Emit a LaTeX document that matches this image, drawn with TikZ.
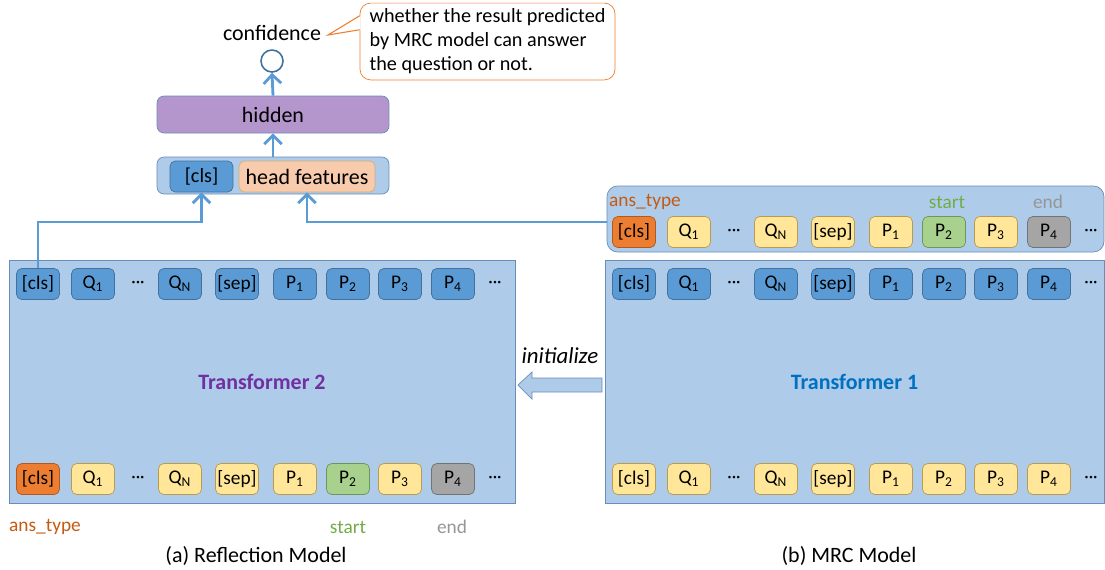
\documentclass[tikz,border=0pt]{standalone}
\usepackage{fontspec}
\setmainfont{Carlito}
\usetikzlibrary{calc,arrows.meta}
\definecolor{boxfill}{RGB}{174,203,234}
\definecolor{boxline}{RGB}{105,140,185}
\definecolor{tblue}{RGB}{91,155,213}
\definecolor{tblueline}{RGB}{65,113,156}
\definecolor{tyellow}{RGB}{255,230,153}
\definecolor{tyellowline}{RGB}{185,155,80}
\definecolor{torange}{RGB}{237,125,49}
\definecolor{torangeline}{RGB}{174,90,33}
\definecolor{tgreen}{RGB}{169,209,142}
\definecolor{tgreenline}{RGB}{110,150,90}
\definecolor{tgray}{RGB}{165,165,165}
\definecolor{tgrayline}{RGB}{115,115,115}
\definecolor{peach}{RGB}{248,203,173}
\definecolor{lavender}{RGB}{180,150,205}
\definecolor{anscol}{RGB}{197,90,17}
\definecolor{startcol}{RGB}{112,173,71}
\definecolor{endcol}{RGB}{150,150,150}
\definecolor{purpletxt}{RGB}{112,48,160}
\definecolor{bluetxt}{RGB}{0,112,192}
\def\fs{\fontsize{12.5}{15}\selectfont}
\def\ts{\fontsize{11}{12}\selectfont}
\def\tdots{\textperiodcentered\textperiodcentered\textperiodcentered}

\begin{document}
\begin{tikzpicture}[x=.02cm,y=-.02cm]
\tikzstyle{tok}=[draw, rounded corners=3pt, minimum width=.86cm, minimum height=.62cm, inner sep=1pt, font=\ts]
\tikzstyle{blue tok}=[tok, fill=tblue, draw=tblueline]
\tikzstyle{yel tok}=[tok, fill=tyellow, draw=tyellowline]
\tikzstyle{ans tok}=[tok, fill=torange, draw=torangeline]
\tikzstyle{start tok}=[tok, fill=tgreen, draw=tgreenline]
\tikzstyle{end tok}=[tok, fill=tgray, draw=tgrayline]
\tikzstyle{dots}=[inner sep=0pt, font=\fontsize{10}{12}\selectfont]
\tikzstyle{model}=[draw=boxline, fill=boxfill, minimum height=4.86cm, font=\fs\bfseries]
\tikzstyle{flow}=[draw=tblue, line width=1.6pt, -{Straight Barb[length=5pt,width=10pt]}]
\useasboundingbox (0,0) rectangle (1105,569);

% Reflection model and MRC model
\node[model, minimum width=10.12cm, text=purpletxt] (refl) at (262,381.5) {Transformer 2};
\node[model, minimum width=9.98cm, text=bluetxt] (mrc) at (854.5,381.5) {Transformer 1};
\node[draw=boxline, fill=boxfill, rounded corners=6pt, minimum width=9.94cm, minimum height=1.32cm] (mout) at (855.5,219) {};

% Reflection: top row
\node[blue tok] (refl top cls) at (38,284) {[cls]};
\node[blue tok] (refl top Q1) at (93,284) {Q\textsubscript{1}};
\node[dots] (refl top dots1) at (138,284) {\tdots};
\node[blue tok] (refl top QN) at (180,284) {Q\textsubscript{N}};
\node[blue tok] (refl top sep) at (237,284) {[sep]};
\node[blue tok] (refl top P1) at (295,284) {P\textsubscript{1}};
\node[blue tok] (refl top P2) at (348,284) {P\textsubscript{2}};
\node[blue tok] (refl top P3) at (400,284) {P\textsubscript{3}};
\node[blue tok] (refl top P4) at (453,284) {P\textsubscript{4}};
\node[dots] (refl top dots2) at (495,284) {\tdots};

% Reflection: bottom row
\node[ans tok] (refl bot cls) at (38,479) {[cls]};
\node[yel tok] (refl bot Q1) at (93,479) {Q\textsubscript{1}};
\node[dots] (refl bot dots1) at (138,479) {\tdots};
\node[yel tok] (refl bot QN) at (180,479) {Q\textsubscript{N}};
\node[yel tok] (refl bot sep) at (237,479) {[sep]};
\node[yel tok] (refl bot P1) at (295,479) {P\textsubscript{1}};
\node[start tok] (refl bot P2) at (348,479) {P\textsubscript{2}};
\node[yel tok] (refl bot P3) at (400,479) {P\textsubscript{3}};
\node[end tok] (refl bot P4) at (453,479) {P\textsubscript{4}};
\node[dots] (refl bot dots2) at (495,479) {\tdots};

% MRC: output row
\node[ans tok] (mrc out cls) at (634,232) {[cls]};
\node[yel tok] (mrc out Q1) at (689,232) {Q\textsubscript{1}};
\node[dots] (mrc out dots1) at (734,232) {\tdots};
\node[yel tok] (mrc out QN) at (776,232) {Q\textsubscript{N}};
\node[yel tok] (mrc out sep) at (833,232) {[sep]};
\node[yel tok] (mrc out P1) at (891,232) {P\textsubscript{1}};
\node[start tok] (mrc out P2) at (944,232) {P\textsubscript{2}};
\node[yel tok] (mrc out P3) at (996,232) {P\textsubscript{3}};
\node[end tok] (mrc out P4) at (1049,232) {P\textsubscript{4}};
\node[dots] (mrc out dots2) at (1091,232) {\tdots};

% MRC: top row
\node[blue tok] (mrc top cls) at (634,284) {[cls]};
\node[blue tok] (mrc top Q1) at (689,284) {Q\textsubscript{1}};
\node[dots] (mrc top dots1) at (734,284) {\tdots};
\node[blue tok] (mrc top QN) at (776,284) {Q\textsubscript{N}};
\node[blue tok] (mrc top sep) at (833,284) {[sep]};
\node[blue tok] (mrc top P1) at (891,284) {P\textsubscript{1}};
\node[blue tok] (mrc top P2) at (944,284) {P\textsubscript{2}};
\node[blue tok] (mrc top P3) at (996,284) {P\textsubscript{3}};
\node[blue tok] (mrc top P4) at (1049,284) {P\textsubscript{4}};
\node[dots] (mrc top dots2) at (1091,284) {\tdots};

% MRC: bottom row
\node[yel tok] (mrc bot cls) at (634,479) {[cls]};
\node[yel tok] (mrc bot Q1) at (689,479) {Q\textsubscript{1}};
\node[dots] (mrc bot dots1) at (734,479) {\tdots};
\node[yel tok] (mrc bot QN) at (776,479) {Q\textsubscript{N}};
\node[yel tok] (mrc bot sep) at (833,479) {[sep]};
\node[yel tok] (mrc bot P1) at (891,479) {P\textsubscript{1}};
\node[yel tok] (mrc bot P2) at (944,479) {P\textsubscript{2}};
\node[yel tok] (mrc bot P3) at (996,479) {P\textsubscript{3}};
\node[yel tok] (mrc bot P4) at (1049,479) {P\textsubscript{4}};
\node[dots] (mrc bot dots2) at (1091,479) {\tdots};

% labels of the answer tokens
\node[font=\fontsize{11}{13}\selectfont, text=anscol] (ans refl) at (45,527) {ans\_type};
\node[font=\fontsize{11}{13}\selectfont, text=startcol] (start refl) at (348,527) {start};
\node[font=\fontsize{11}{13}\selectfont, text=endcol] (end refl) at (452,527) {end};
\node[font=\fontsize{11}{13}\selectfont, text=anscol] (ans mrc) at (645,202) {ans\_type};
\node[font=\fontsize{11}{13}\selectfont, text=startcol] (start mrc) at (947,202) {start};
\node[font=\fontsize{11}{13}\selectfont, text=endcol] (end mrc) at (1048,202) {end};

% captions
\node[font=\fs] (cap refl) at (256,556) {(a) Reflection Model};
\node[font=\fs] (cap mrc) at (849,556) {(b) MRC Model};

% initialize
\node[font=\fontsize{13}{15}\selectfont\itshape] (init) at (560,356) {initialize};
\draw[draw=boxline, fill=boxfill] (602,378) -- (532,378) -- (532,372) -- (518,385) -- (532,399) -- (532,392) -- (602,392) -- cycle;

% head of the reflection model
\node[draw=boxline, fill=boxfill, rounded corners=4pt, minimum width=4.64cm, minimum height=.74cm] (feat) at (273,175.5) {};
\node[draw=tblueline, fill=tblue, rounded corners=3pt, minimum width=1.26cm, minimum height=.62cm, font=\fontsize{11.5}{13}\selectfont] (fcls) at (201.5,176.5) {[cls]};
\node[draw=tyellowline!60!peach, fill=peach, rounded corners=3pt, minimum width=2.72cm, minimum height=.62cm, font=\fs] (hf) at (307,176.5) {head features};
\node[draw=boxline, fill=lavender, rounded corners=4pt, minimum width=4.64cm, minimum height=.74cm, font=\fs] (hidden) at (273,114.5) {hidden};
\node[draw=tblueline, line width=.9pt, circle, minimum size=.44cm, inner sep=0pt] (conf) at (272,61) {};
\node[font=\fs] (conf label) at (272,33) {confidence};

% note on the confidence
\node[draw=torange, fill=white, rounded corners=6pt, minimum width=5.1cm, minimum height=1.5cm, align=left, font=\fontsize{11.5}{13.6}\selectfont] (note) at (487.5,41.5) {whether the result predicted\\by MRC model can answer\\the question or not.};
\fill[white] ($(note.north west)+(1,13)$) -- (328,35) -- ($(note.north west)+(1,27)$) -- cycle;
\draw[torange, line width=.6pt] ($(note.north west)+(0,13)$) -- (328,35) -- ($(note.north west)+(0,27)$);

% connectors
\coordinate (route) at (0,222);
\draw[flow] (feat.north) -- (hidden.south);
\draw[flow] (hidden.north) -- (conf.south);
\draw[flow] (refl top cls.north) -- (refl top cls.north |- route) -| (fcls.south);
\draw[flow] (mout.west |- route) -| (hf.south);

\end{tikzpicture}
\end{document}
